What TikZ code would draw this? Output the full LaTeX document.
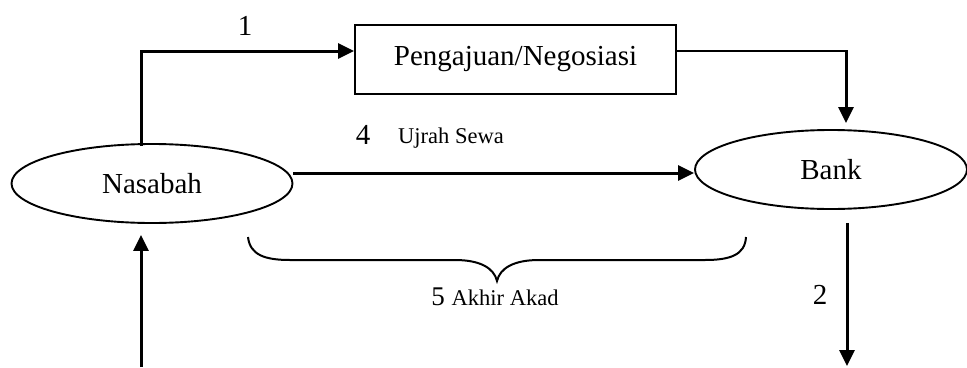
\documentclass[tikz,border=0pt]{standalone}
\usepackage{fontspec}
\setmainfont{Liberation Serif}
\usetikzlibrary{arrows.meta,shapes.geometric}
\tikzset{
  actor/.style={ellipse,draw,line width=1.9pt,minimum width=#1,minimum height=79pt,inner sep=0pt,font=\fontsize{29}{32}\selectfont},
  procbox/.style={rectangle,draw,line width=1.8pt,minimum width=321pt,minimum height=69pt,inner sep=0pt,font=\fontsize{29}{32}\selectfont},
  arr/.style={line width=3pt,-{Triangle[length=16pt,width=15pt]}},
  thinline/.style={line width=2pt},
  bignum/.style={font=\fontsize{29}{32}\selectfont,inner sep=0pt},
  smalllbl/.style={font=\fontsize{22.5}{26}\selectfont,inner sep=0pt}
}
\begin{document}
\begin{tikzpicture}[x=1pt,y=-1pt]
  \useasboundingbox (0,0) rectangle (967,367);

  % actors and process box
  \node[actor=281pt] (nas) at (152,183.5) {Nasabah};
  \node[actor=272pt] (bank) at (831,169.5) {Bank};
  \node[procbox] (peng) at (515.5,59.5) {Pengajuan/Negosiasi};

  % helper points
  \coordinate (corner) at (846,51);
  \coordinate (down) at (847,366);
  \coordinate (up) at (141,367);

  % 1: Nasabah -> Pengajuan/Negosiasi
  \draw[arr] ([xshift=-11pt,yshift=-3pt]nas.north) |- ([yshift=8.5pt]peng.west);
  \node[bignum] (l1) at (245,26) {1};

  % Pengajuan/Negosiasi -> Bank
  \draw[thinline] ([yshift=8.5pt]peng.east) -- ([xshift=2pt]corner);
  \draw[arr,shorten >=6pt] (corner) -- (corner |- bank.north);

  % 4: Ujrah Sewa
  \draw[arr] ([yshift=10.5pt]nas.east) -- ([yshift=-3.5pt]bank.west);
  \node[bignum] (l4) at (363,135) {4};
  \node[smalllbl] (l4t) at (451,138) {Ujrah Sewa};

  % 2: Bank downwards
  \draw[arr] ([xshift=16pt,yshift=-13pt]bank.south) -- (down);
  \node[bignum] (l2) at (820,295) {2};

  % return to Nasabah
  \draw[arr] (up) -- ([xshift=-11pt,yshift=-11pt]nas.south);

  % 5: brace under the transfer
  \draw[thinline] (248,237) .. controls (250,255) and (265,260) .. (290,260)
    -- (455,260) .. controls (480,260) and (494,268) .. (497,281)
    .. controls (500,268) and (514,260) .. (539,260)
    -- (705,260) .. controls (730,260) and (745,255) .. (746,237);
  \node[inner sep=0pt] (l5) at (495,297) {\fontsize{27}{30}\selectfont 5 \fontsize{22.5}{26}\selectfont Akhir Akad};
\end{tikzpicture}
\end{document}
